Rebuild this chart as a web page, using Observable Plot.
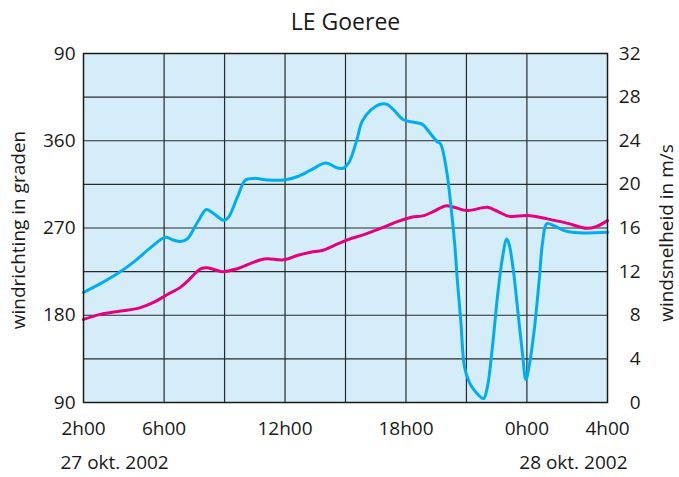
<!DOCTYPE html>
<html><head><meta charset="utf-8">
<script src="https://cdn.jsdelivr.net/npm/d3@7"></script>
<script src="https://cdn.jsdelivr.net/npm/@observablehq/plot@0.6"></script>
<style>body{margin:0;background:#fff;}</style>
</head><body><div id="chart"></div>
<script>
// wind speed (m/s, right axis)
const speedHours = [2.0,2.84,3.67,4.5,5.33,6.07,6.45,6.82,7.15,7.65,8.1,8.47,8.97,9.2,9.63,10.04,10.5,11.12,11.95,12.6,13.27,14.02,14.6,14.9,15.17,15.55,15.83,16.25,16.66,17.05,17.4,17.9,18.4,18.82,19.15,19.56,19.72,20.02,20.22,20.42,20.55,20.72,20.9,21.13,21.46,21.85,22.04,22.29,22.54,22.79,23.0,23.12,23.33,23.53,23.78,23.95,24.11,24.36,24.61,24.78,24.99,25.36,25.85,26.35,27.0,28.0];
const speedValues = [10.1,10.9,11.8,12.9,14.2,15.15,14.9,14.76,15.0,16.5,17.7,17.3,16.7,17.0,18.8,20.4,20.55,20.4,20.4,20.7,21.3,21.96,21.5,21.5,22.0,24.0,25.8,26.8,27.3,27.35,26.8,25.9,25.7,25.5,24.8,23.9,23.7,21.2,18.2,14.5,11.2,7.5,3.3,1.9,0.97,0.37,1.43,5.1,9.7,13.3,15.0,14.5,12.1,8.75,4.5,2.1,3.3,6.6,11.2,14.7,16.4,16.2,15.76,15.58,15.55,15.6];
// wind direction (degrees, left axis)
const dirHours = [2.0,2.84,3.84,4.75,5.5,6.16,6.82,7.23,7.81,8.14,8.89,9.63,10.3,10.8,11.12,11.95,12.6,13.27,13.85,14.43,15.1,15.92,16.9,17.57,18.27,18.9,19.4,19.97,20.38,21.05,22.04,22.54,23.12,24.03,25.02,26.02,26.96,27.44,28.0];
const dirValues = [175.7,180.9,184.3,187.4,193.5,201.4,209,216.6,227.9,229,225,228,233.5,237.2,238.2,237.2,241.6,245,246.8,251.9,257.8,263.2,270.8,276.6,281,282.8,287.5,292.8,291.4,288,291.3,287.2,282,282.8,279.4,274.8,269.7,271.5,277.6];

const xTicks = [2,6,12,18,24,28];
const xGrid = [6,9,12,15,18,21,24];
const speedTicks = [0,4,8,12,16,20,24,28,32];
const dirTickDegrees = [90,180,270,360,450];
const dirTickLabels = ["90","180","270","360","90"];
const titleText = "LE Goeree";
const leftTitle = "windrichting in graden";
const rightTitle = "windsnelheid in m/s";
const dateLabels = ["27 okt. 2002","28 okt. 2002"];

const toSpeed = d => (d - 90) * 32 / 360;
const dirTickPos = dirTickDegrees.map(toSpeed);

const speed = speedHours.map((h, i) => ({h, v: speedValues[i]}));
const dir = dirHours.map((h, i) => ({h, v: toSpeed(dirValues[i])}));

const chart = Plot.plot({
  width: 679, height: 477,
  marginLeft: 83, marginRight: 72, marginTop: 53, marginBottom: 75,
  style: {fontFamily: "'Open Sans', sans-serif", fontSize: "19px", color: "#1a1a1a", background: "white"},
  x: {domain: [2, 28]},
  y: {domain: [0, 32]},
  marks: [
    Plot.frame({fill: "#d4edf9", stroke: "none"}),
    Plot.ruleX(xGrid, {stroke: "#2a2a2a", strokeWidth: 1.2}),
    Plot.ruleY(speedTicks.slice(1, -1), {stroke: "#2a2a2a", strokeWidth: 1.2}),
    Plot.line(dir, {x: "h", y: "v", stroke: "#e5007e", strokeWidth: 3, curve: "catmull-rom"}),
    Plot.line(speed, {x: "h", y: "v", stroke: "#00aeef", strokeWidth: 3, curve: "catmull-rom"}),
    Plot.frame({stroke: "#1a1a1a", strokeWidth: 1.5}),
    Plot.axisX({ticks: xTicks, tickFormat: h => `${h % 24}h00`, tickSize: 0, tickPadding: 19, label: null}),
    Plot.axisY({anchor: "left", ticks: dirTickPos, tickFormat: d => dirTickLabels[dirTickPos.indexOf(d)], tickSize: 0, tickPadding: 8, label: null}),
    Plot.axisY({anchor: "right", ticks: speedTicks, tickSize: 0, tickPadding: 33, textAnchor: "end", label: null}),
    Plot.text([titleText], {frameAnchor: "top", text: d => d, dy: -24, lineAnchor: "bottom", fontSize: 23}),
    Plot.text([leftTitle], {frameAnchor: "left", text: d => d, textAnchor: "middle", dx: -65, dy: 2, rotate: -90}),
    Plot.text([rightTitle], {frameAnchor: "right", text: d => d, textAnchor: "middle", dx: 59, dy: 5, rotate: -90}),
    Plot.text([dateLabels[0]], {frameAnchor: "bottom-left", text: d => d, textAnchor: "start", dx: -23, dy: 53, lineAnchor: "top"}),
    Plot.text([dateLabels[1]], {frameAnchor: "bottom-right", text: d => d, textAnchor: "end", dx: 20, dy: 53, lineAnchor: "top"})
  ]
});
document.getElementById("chart").append(chart);
</script>
</body></html>
